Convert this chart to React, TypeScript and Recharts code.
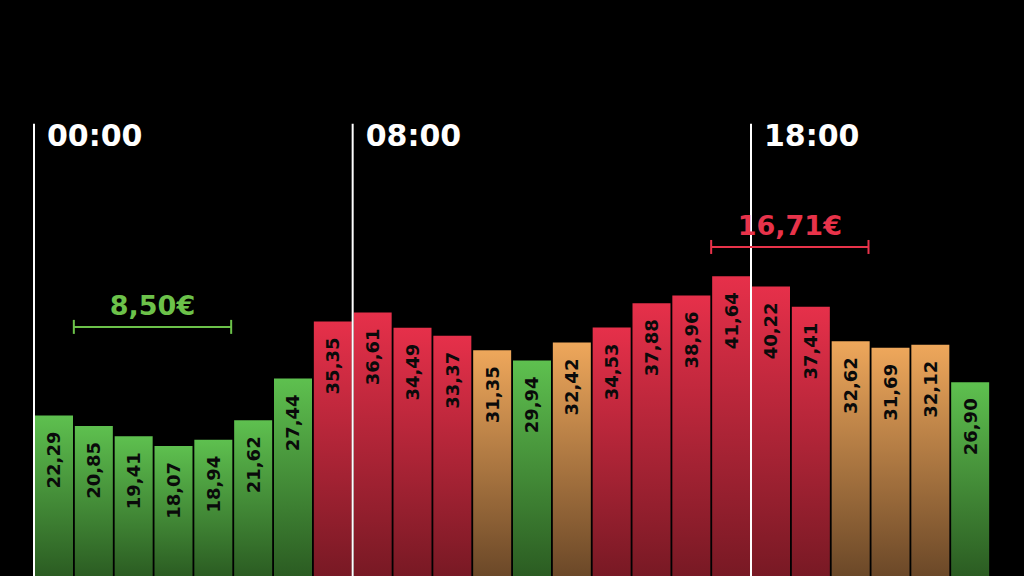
import { BarChart, Bar, XAxis, YAxis, Cell, LabelList, ReferenceLine } from "recharts"

const hours = [
  "00:00", "01:00", "02:00", "03:00", "04:00", "05:00", "06:00", "07:00",
  "08:00", "09:00", "10:00", "11:00", "12:00", "13:00", "14:00", "15:00",
  "16:00", "17:00", "18:00", "19:00", "20:00", "21:00", "22:00", "23:00",
]
const prices = [
  22.29, 20.85, 19.41, 18.07, 18.94, 21.62, 27.44, 35.35,
  36.61, 34.49, 33.37, 31.35, 29.94, 32.42, 34.53, 37.88,
  38.96, 41.64, 40.22, 37.41, 32.62, 31.69, 32.12, 26.9,
]
// g = cheap, o = medium, r = expensive
const levels = [
  "g", "g", "g", "g", "g", "g", "g", "r",
  "r", "r", "r", "o", "g", "o", "r", "r",
  "r", "r", "r", "r", "o", "o", "o", "g",
]
const markers = ["00:00", "08:00", "18:00"]
const markerTop = 62.8

const cheapest = { from: "01:00", to: "05:00", y: 34.6, amount: 8.5, color: "#6cc24a" }
const priciest = { from: "17:00", to: "21:00", y: 45.7, amount: 16.71, color: "#e8334a" }

const data = hours.map((hour, i) => ({ hour, price: prices[i], level: levels[i] }))

const gradients: Record<string, [string, string]> = {
  g: ["#5ec04f", "#2b5c22"],
  o: ["#eea75b", "#6b4828"],
  r: ["#e6304a", "#781924"],
}

const font = "'DejaVu Sans', sans-serif"
const fmt = (v: number) => v.toFixed(2).replace(".", ",")

const BarValue = (props: any) => {
  const { x, y, width, value } = props
  const cx = Number(x) + Number(width) / 2 + 6.5
  const top = Number(y) + 16
  return (
    <text
      x={cx}
      y={top}
      transform={`rotate(-90, ${cx}, ${top})`}
      textAnchor="end"
      fill="#0a0a0a"
      fontSize={18}
      fontWeight="bold"
      fontFamily={font}
    >
      {fmt(Number(value))}
    </text>
  )
}

const markerLabel = (text: string) => (props: any) => {
  const vb = props.viewBox || {}
  return (
    <text x={vb.x + 13} y={vb.y + 22} fill="#fff" fontSize={30} fontWeight="bold" fontFamily={font}>
      {text}
    </text>
  )
}

const bracket = (amount: number, color: string) => (p: any) => {
  const x1 = Number(p.x1)
  const x2 = Number(p.x2) - 2
  const y = Number(p.y1)
  return (
    <g>
      <line x1={x1} y1={y} x2={x2} y2={y} stroke={color} strokeWidth={2} />
      <line x1={x1} y1={y - 7} x2={x1} y2={y + 7} stroke={color} strokeWidth={2} />
      <line x1={x2} y1={y - 7} x2={x2} y2={y + 7} stroke={color} strokeWidth={2} />
      <text
        x={(x1 + x2) / 2}
        y={y - 12}
        textAnchor="middle"
        fill={color}
        fontSize={27}
        fontWeight="bold"
        fontFamily={font}
      >
        {fmt(amount)}€
      </text>
    </g>
  )
}

export default function App() {
  return (
    <div style={{ position: "absolute", left: 0, top: 0, width: 1024, height: 576, background: "#000", overflow: "hidden" }}>
      <BarChart
        width={1024}
        height={576}
        data={data}
        margin={{ top: 0, right: 34, left: 34, bottom: 0 }}
        barCategoryGap={1}
      >
        <defs>
          {Object.entries(gradients).map(([k, [top, bottom]]) => (
            <linearGradient key={k} id={`grad-${k}`} x1="0" y1="0" x2="0" y2="1">
              <stop offset="0%" stopColor={top} />
              <stop offset="100%" stopColor={bottom} />
            </linearGradient>
          ))}
        </defs>
        <XAxis dataKey="hour" hide />
        <YAxis hide domain={[0, 80]} />
        <Bar dataKey="price" isAnimationActive={false}>
          {data.map((d) => (
            <Cell key={d.hour} fill={`url(#grad-${d.level})`} />
          ))}
          <LabelList dataKey="price" content={BarValue} />
        </Bar>
        {markers.map((m) => (
          <ReferenceLine
            key={m}
            segment={[{ x: m, y: 0 }, { x: m, y: markerTop }]}
            position="start"
            stroke="#fff"
            strokeWidth={2}
            label={markerLabel(m)}
          />
        ))}
        {[cheapest, priciest].map((b) => (
          <ReferenceLine
            key={b.from}
            segment={[{ x: b.from, y: b.y }, { x: b.to, y: b.y }]}
            position="start"
            shape={bracket(b.amount, b.color)}
          />
        ))}
      </BarChart>
    </div>
  )
}
